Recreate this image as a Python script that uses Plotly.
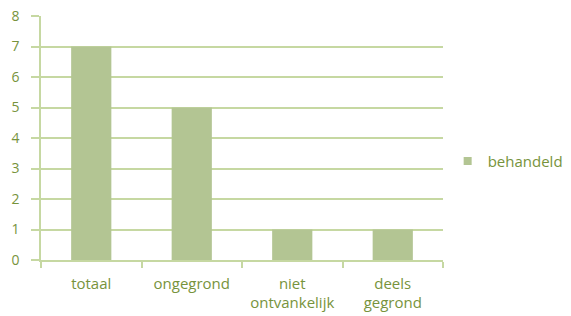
import plotly.graph_objects as go

categories = ["totaal", "ongegrond", "niet<br>ontvankelijk", "deels<br>gegrond"]
values = [7, 5, 1, 1]
series_name = "behandeld"
y_ticks = [0, 1, 2, 3, 4, 5, 6, 7, 8]

text_color = "#77933C"
grid_color = "#C6D8A2"
bar_color = "#B3C593"

fig = go.Figure()
fig.add_trace(go.Bar(x=categories, y=values, name=series_name,
                     marker=dict(color=bar_color, line=dict(width=0)),
                     showlegend=False))
# legend entry with a small square swatch
fig.add_trace(go.Scatter(x=[None], y=[None], mode="markers", name=series_name,
                         marker=dict(symbol="square", size=8, color=bar_color),
                         showlegend=True))

fig.update_layout(
    width=571, height=316,
    margin=dict(l=41, r=128, t=16, b=56, autoexpand=False),
    paper_bgcolor="white", plot_bgcolor="white",
    font=dict(family="Open Sans, sans-serif", size=14, color=text_color),
    bargap=0.6,
    showlegend=True,
    legend=dict(xref="container", yref="container", x=0.784, y=0.49,
                xanchor="left", yanchor="middle",
                font=dict(size=15, color=text_color), itemwidth=30,
                bgcolor="rgba(0,0,0,0)"),
    xaxis=dict(showline=True, linecolor=grid_color, linewidth=1.5,
               ticks="outside", tickson="boundaries", ticklen=6, tickcolor=grid_color,
               tickwidth=1.5, showgrid=False, automargin=False,
               ticklabelstandoff=9,
               tickfont=dict(size=15, color=text_color)),
    yaxis=dict(range=[0, 8], tickvals=y_ticks, showline=True, linecolor=grid_color,
               linewidth=1.5, ticks="outside", ticklen=8, tickcolor=grid_color,
               tickwidth=1.5, showgrid=True, gridcolor=grid_color, gridwidth=1.5,
               zeroline=False, automargin=False, ticklabelstandoff=9,
               tickfont=dict(size=14, color=text_color)),
)

fig.write_html("out.html", config={"displayModeBar": False},
               post_script="document.body.style.margin='0';document.body.style.padding='0';")
